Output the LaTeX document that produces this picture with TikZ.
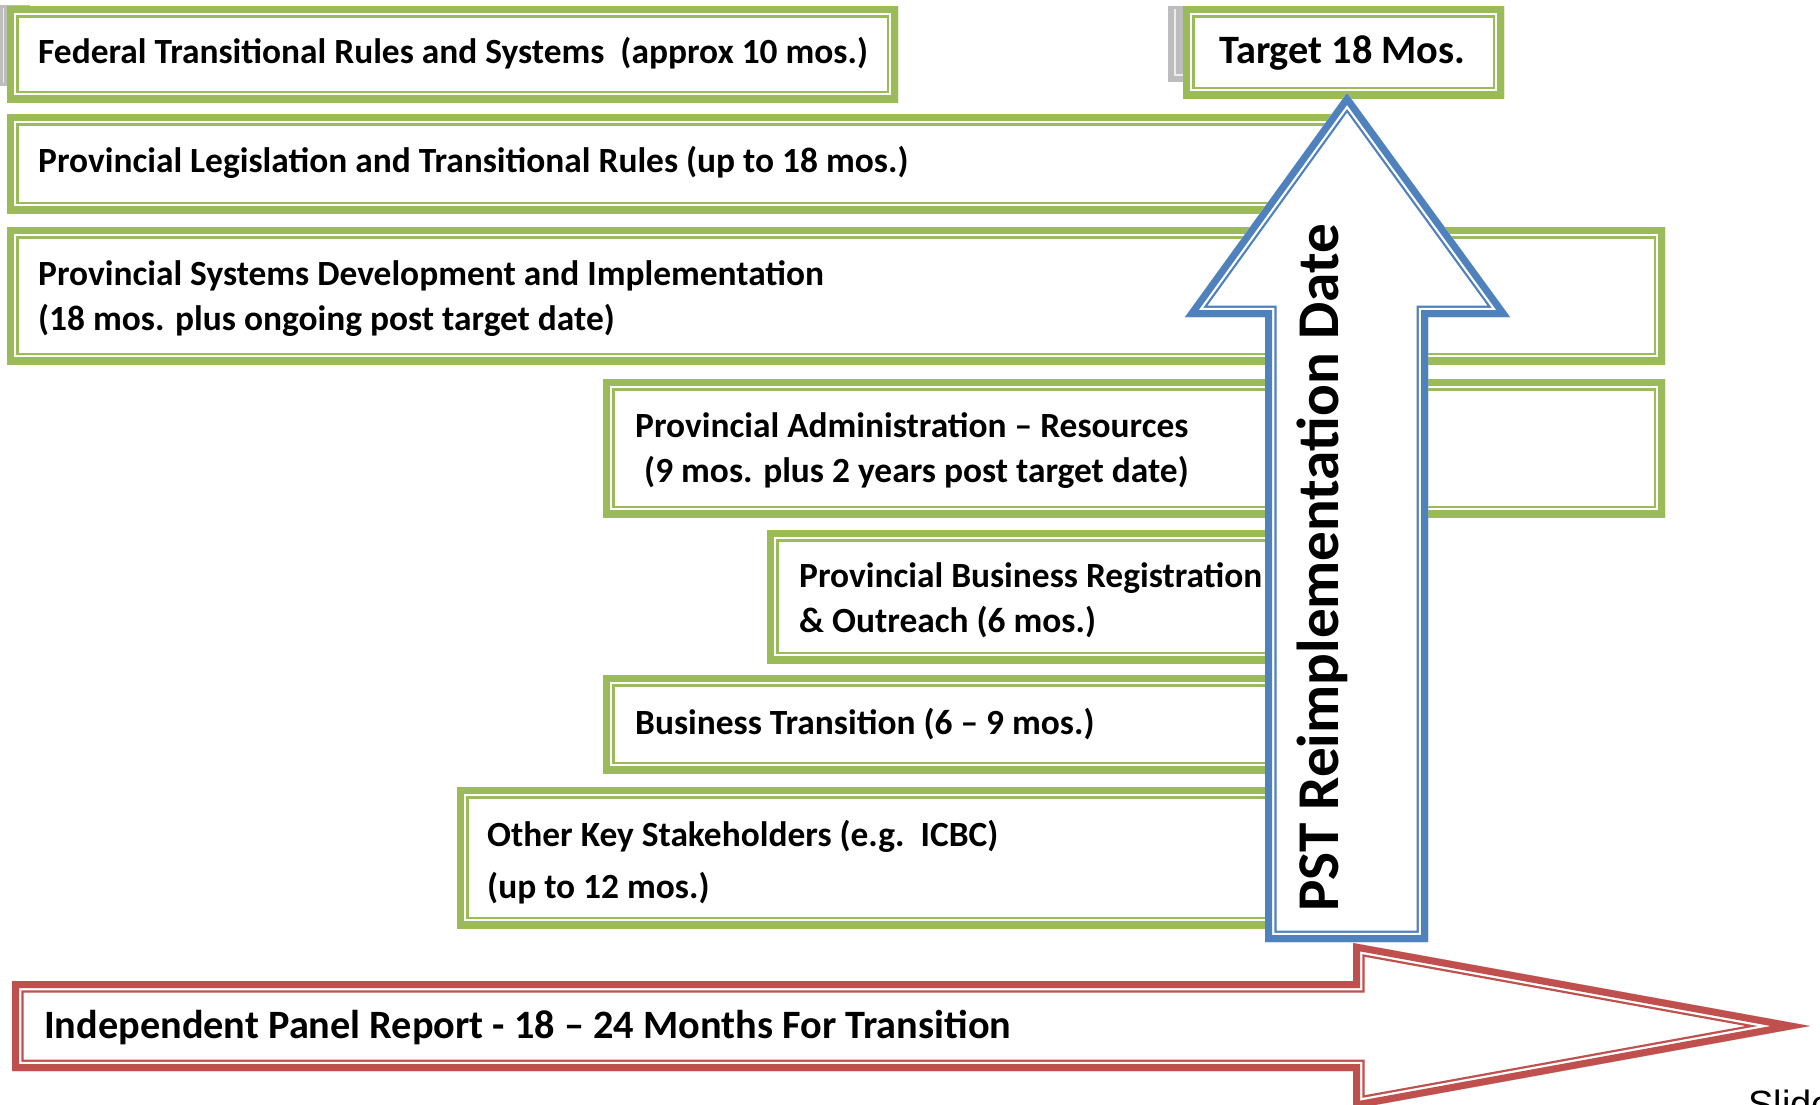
\documentclass[tikz,border=0pt]{standalone}
\usepackage{fontspec}
\setmainfont{Carlito}
\newfontfamily\slidefont{Liberation Sans}
\definecolor{ogreen}{HTML}{9BBB59}
\definecolor{oblue}{HTML}{4F81BD}
\definecolor{ored}{HTML}{C0504D}
\definecolor{shadowgray}{HTML}{BDBDBD}
% thick-thin compound outline, drawn inside the given closed path
\newcommand{\cframe}[2]{%
  \begin{scope}
    \clip #2;
    \fill[white] #2;
    \draw[#1, line width=23] #2;
    \draw[white, line width=18.5] #2;
    \draw[#1, line width=14] #2;
  \end{scope}}
\begin{document}
\begin{tikzpicture}[x=1pt,y=-1pt, line join=miter, miter limit=20,
  lbl/.style={anchor=base west, inner sep=0, font=\fontsize{35.4}{42}\selectfont\bfseries},
  biglbl/.style={anchor=base west, inner sep=0, font=\fontsize{40.3}{48}\selectfont\bfseries}]
\useasboundingbox (0,0) rectangle (1820,1104);
\clip (0,0) rectangle (1820,1104);
\fill[white] (0,0) rectangle (1820,1104);

% grey shadows
\fill[shadowgray] (0,5) rectangle (30,86);
\draw[gray!15, line width=1.2] (3.5,8) -- (3.5,83);
\fill[shadowgray] (1168,6) rectangle (1200,82);
\draw[gray!15, line width=1.2] (1175,9) -- (1175,75) -- (1200,75);

% green boxes
\cframe{ogreen}{(7,6) rectangle (898,102)}
\cframe{ogreen}{(7,114) rectangle (1345,213)}
\cframe{ogreen}{(7,227) rectangle (1665,364)}
\cframe{ogreen}{(603,379) rectangle (1665,517)}
\cframe{ogreen}{(767,530) rectangle (1330,663)}
\cframe{ogreen}{(603,675) rectangle (1330,773)}
\cframe{ogreen}{(457,787) rectangle (1330,928)}
\cframe{ogreen}{(1183,6) rectangle (1504,98)}

\node[lbl] (t1) at (38,63) {Federal Transitional Rules and Systems~~(approx 10 mos.)};
\node[lbl] (t2) at (38,172) {Provincial Legislation and Transitional Rules (up to 18 mos.)};
\node[lbl] (t3a) at (38,285) {Provincial Systems Development and Implementation};
\node[lbl] (t3b) at (38,330) {(18 mos. plus ongoing post target date)};
\node[lbl] (t4a) at (635,437) {Provincial Administration – Resources};
\node[lbl] (t4b) at (644,482) {(9 mos. plus 2 years post target date)};
\node[lbl] (t5a) at (799,587) {Provincial Business Registration};
\node[lbl] (t5b) at (799,632) {\& Outreach (6 mos.)};
\node[lbl] (t6) at (635,734) {Business Transition (6 – 9 mos.)};
\node[lbl] (t7a) at (487,846) {Other Key Stakeholders (e.g.~~ICBC)};
\node[lbl] (t7b) at (487,898) {(up to 12 mos.)};
\node[biglbl] (target) at (1219,63) {Target 18 Mos.};

% red arrow
\cframe{ored}{(12,981) -- (1353,981) -- (1353,943) -- (1810,1026) -- (1353,1109) -- (1353,1071) -- (12,1071) -- cycle}
\node[biglbl] (panel) at (44,1038) {Independent Panel Report - 18 – 24 Months For Transition};

% blue arrow
\cframe{oblue}{(1347,93) -- (1510,317) -- (1428,317) -- (1428,942) -- (1265,942) -- (1265,317) -- (1185,317) -- cycle}
\node[anchor=base, inner sep=0, rotate=90, font=\fontsize{59.2}{64}\selectfont\bfseries] (pst) at (1338,568) {PST Reimplementation Date};

\node[anchor=base west, inner sep=0, font=\slidefont\fontsize{38}{44}\selectfont] (slide) at (1748,1117) {Slide};
\end{tikzpicture}
\end{document}
